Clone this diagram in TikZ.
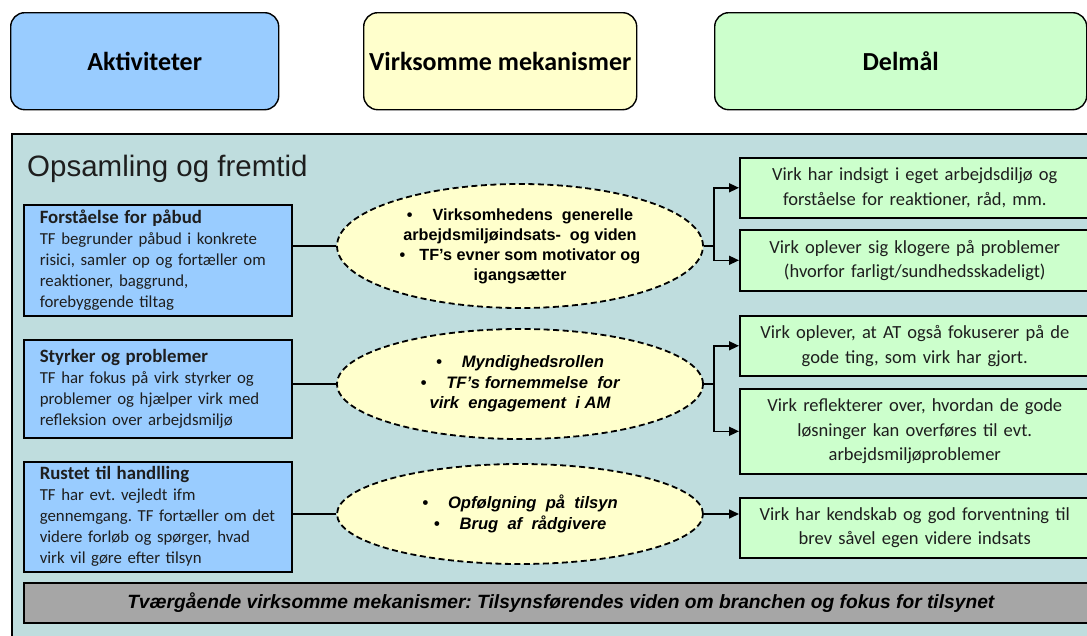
\documentclass[tikz,border=0pt]{standalone}
\usepackage{fontspec}
\setmainfont{Carlito}
\newfontfamily\arialf{Liberation Sans}
\usetikzlibrary{shapes.geometric,arrows.meta}
\definecolor{hblue}{HTML}{99CCFF}
\definecolor{hyellow}{HTML}{FFFFCC}
\definecolor{hgreen}{HTML}{CCFFCC}
\definecolor{panelc}{HTML}{BFDDDE}
\definecolor{barc}{HTML}{A6A6A6}
\definecolor{txt}{HTML}{1E1E1E}
\AtBeginDocument{\frenchspacing}
\newcommand{\acthead}[1]{{\fontsize{18.8}{21}\selectfont\bfseries #1}}
\begin{document}
\begin{tikzpicture}[x=1pt,y=-1pt,
 hdr/.style={draw=black,line width=1.4pt,rounded corners=14pt,anchor=north west,inner sep=0pt,text=black,font=\fontsize{26}{30}\selectfont\bfseries},
 act/.style={draw=black,line width=1.6pt,fill=hblue,anchor=north west,inner xsep=9pt,inner ysep=0pt,text width=250pt,align=left,text=txt,font=\fontsize{16.8}{21}\selectfont},
 goal/.style={draw=black,line width=1.6pt,fill=hgreen,anchor=north west,inner xsep=4pt,inner ysep=0pt,text width=342pt,align=center,text=txt,font=\fontsize{18.5}{24.5}\selectfont},
 mech/.style={ellipse,draw=black,fill=hyellow,line width=1.8pt,dash pattern=on 6pt off 3.5pt,minimum width=366pt,inner sep=0pt,align=center,text=black,font=\arialf\fontsize{16.2}{20}\selectfont\bfseries},
 conn/.style={draw=black,line width=1.6pt},
 arr/.style={conn,-{Triangle[length=10pt,width=9pt]}}]
\useasboundingbox (0,0) rectangle (1087,635);
\clip (0,0) rectangle (1087,635);
\fill[white] (0,0) rectangle (1087,635);

% headers
\node[hdr,fill=hblue,minimum width=268pt,minimum height=97pt] (h1) at (10,12) {Aktiviteter};
\node[hdr,fill=hyellow,minimum width=273pt,minimum height=97pt] (h2) at (363,12) {Virksomme mekanismer};
\node[hdr,fill=hgreen,minimum width=372pt,minimum height=97pt] (h3) at (714,12) {Delmål};

% panel
\node[draw=black,fill=panelc,line width=1.6pt,anchor=north west,minimum width=1090pt,minimum height=520pt,inner sep=0pt] (panel) at (11,133) {};
\node[anchor=base west,inner sep=0pt,text=txt,font=\arialf\fontsize{29.5}{33}\selectfont] (title) at (27,176) {Opsamling og fremtid};

% activities
\node[act,minimum height=111pt] (b1) at (23,204) {\leftskip=7pt \acthead{Forståelse for påbud}\\TF begrunder påbud i konkrete\\risici, samler op og fortæller om\\reaktioner, baggrund,\\forebyggende tiltag\par};
\node[act,minimum height=98pt] (b2) at (23,339) {\leftskip=7pt \acthead{Styrker og problemer}\\TF har fokus på virk styrker og\\problemer og hjælper virk med\\refleksion over arbejdsmiljø\par};
\node[act,minimum height=110pt] (b3) at (23,461) {\leftskip=7pt \acthead{Rustet til handlling}\\TF har evt. vejledt ifm\\gennemgang. TF fortæller om det\\videre forløb og spørger, hvad\\virk vil gøre efter tilsyn\par};

% mechanisms
\node[mech,minimum height=124pt] (e1) at (520,246) {\textbullet\hspace{20pt}Virksomhedens\ \ generelle\\arbejdsmiljøindsats-\ \ og viden\\\textbullet\hspace{14pt}TF’s evner som motivator og\\igangsætter};
\node[mech,minimum height=110pt,font=\arialf\fontsize{16.6}{20.5}\selectfont\bfseries\itshape] (e2) at (520,384) {\textbullet\hspace{20pt}Myndighedsrollen\\\textbullet\hspace{20pt}TF’s fornemmelse\ \ for\\virk\ \ engagement\ \ i AM};
\node[mech,minimum height=100pt,font=\arialf\fontsize{16.6}{20.5}\selectfont\bfseries\itshape] (e3) at (520,514) {\textbullet\hspace{20pt}Opfølgning\ \ på\ \ tilsyn\\\textbullet\hspace{20pt}Brug\ \ af\ \ rådgivere};

% goals
\node[goal,minimum height=60pt] (g1) at (739,157) {Virk har indsigt i eget arbejdsdiljø og\\forståelse for reaktioner, råd, mm.};
\node[goal,minimum height=61pt] (g2) at (739,229) {Virk oplever sig klogere på problemer\\(hvorfor farligt/sundhedsskadeligt)};
\node[goal,minimum height=60pt] (g3) at (739,315) {Virk oplever, at AT også fokuserer på de\\gode ting, som virk har gjort.};
\node[goal,minimum height=85pt] (g4) at (739,388) {Virk reflekterer over, hvordan de gode\\løsninger kan overføres til evt.\\arbejdsmiljøproblemer};
\node[goal,minimum height=60pt] (g5) at (739,497) {Virk har kendskab og god forventning til\\brev såvel egen videre indsats};

% cross-cutting bar
\node[draw=black,fill=barc,line width=1.6pt,anchor=north west,minimum width=1074pt,minimum height=40pt,inner sep=0pt,text=black,font=\arialf\fontsize{19.2}{22}\selectfont\bfseries\itshape] (bar) at (23,582) {Tværgående virksomme mekanismer: Tilsynsførendes viden om branchen og fokus for tilsynet};

% connectors
\draw[conn] (e1.west -| b1.east) -- (e1.west);
\draw[conn] (e2.west -| b2.east) -- (e2.west);
\draw[conn] (e3.west -| b3.east) -- (e3.west);

\coordinate (j1) at (714,246);
\coordinate (j2) at (714,384);
\draw[conn] (e1.east) -- (j1);
\draw[arr] (j1) |- (g1.west);
\draw[arr] (j1) |- (g2.west);
\draw[conn] (e2.east) -- (j2);
\draw[arr] (j2) |- (g3.west);
\draw[arr] (j2) |- (g4.west);
\draw[arr] (e3.east) -- (e3.east -| g5.west);
\end{tikzpicture}
\end{document}
